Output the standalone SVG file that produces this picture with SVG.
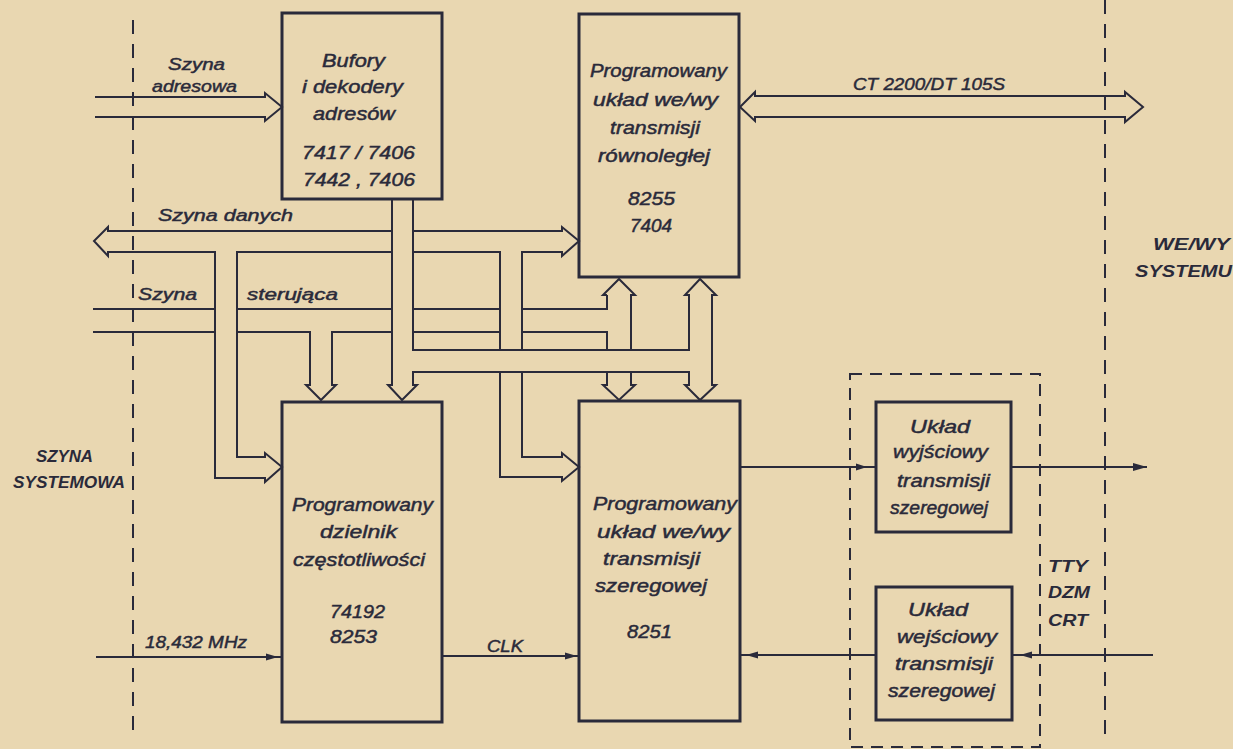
<svg xmlns="http://www.w3.org/2000/svg" width="1233" height="749" viewBox="0 0 1233 749">
<style>
.bg{fill:#e9d7b1}
.box{fill:none;stroke:#2a2a3a;stroke-width:3}
.ln{fill:none;stroke:#2a2a3a;stroke-width:2;stroke-linejoin:miter}
.dash{fill:none;stroke:#2a2a3a;stroke-width:2;stroke-dasharray:14 10}
.dbox{fill:none;stroke:#2a2a3a;stroke-width:2;stroke-dasharray:12 8}
.ah{fill:#2a2a3a}
text{font-family:"Liberation Sans","DejaVu Sans",sans-serif;font-style:italic;font-size:17.5px;fill:#2a2a3a;stroke:#2a2a3a;stroke-width:0.45}
.cap{font-weight:bold;font-size:16px;stroke-width:0}
.sm{font-size:16px}
</style>
<rect class="bg" x="0" y="0" width="1233" height="749"/>

<g id="boundaries">
<line class="dash" x1="133" y1="20" x2="133" y2="735"/>
<line class="dash" x1="1105" y1="0" x2="1105" y2="735"/>
<text class="cap" x="36" y="462" textLength="57" lengthAdjust="spacingAndGlyphs">SZYNA</text>
<text class="cap" x="13" y="488" textLength="112" lengthAdjust="spacingAndGlyphs">SYSTEMOWA</text>
<text class="cap" x="1153" y="250" textLength="77" lengthAdjust="spacingAndGlyphs">WE/WY</text>
<text class="cap" x="1135" y="277" textLength="97" lengthAdjust="spacingAndGlyphs">SYSTEMU</text>
</g>

<g id="connectors">
<!-- address bus -->
<path class="ln" d="M95,97 H265 V93 L282,107 L265,121 V117 H95"/>
<!-- CT bus -->
<path class="ln" d="M755,96 H1125 V92 L1143,107 L1125,122 V117 H755 V121 L740,107 L755,92 Z"/>
<!-- data bus -->
<path class="ln" d="M392,231 H108 V227 L94,241 L108,256 V252 H215 V478 H265 V482 L282,467 L265,453 V457 H237 V252 H392"/>
<path class="ln" d="M413,231 H562 V227 L579,241 L562,256 V252 H522 V350"/>
<path class="ln" d="M413,252 H500 V350"/>
<path class="ln" d="M500,372 V477 H562 V481 L579,467 L562,453 V457 H522 V372"/>
<!-- control bus -->
<path class="ln" d="M93,309 H215 M237,309 H392 M413,309 H500 M522,309 H607 V295"/>
<path class="ln" d="M93,332 H215 M237,332 H310 V385 H306 L321,400 L336,385 H332 V332 H392 M413,332 H500 M522,332 H607 V350"/>
<!-- buffer bus -->
<path class="ln" d="M392,199 V385 H388 L402,400 L417,385 H413 V372 H689 V385 H685 L700,400 L716,385 H712 V295 H716 L700,279 L685,295 H689 V350 H413 V199"/>
<!-- left vertical bus 8255/8251 -->
<path class="ln" d="M607,295 H603 L619,279 L635,295 H631 V350"/>
<path class="ln" d="M607,372 V385 H603 L619,400 L635,385 H631 V372"/>
<!-- clock and serial lines -->
<path class="ln" d="M96,657 H282"/>
<polygon class="ah" points="278,657 266,653.5 266,660.5"/>
<path class="ln" d="M442,656 H579"/>
<polygon class="ah" points="577,656 565,652.5 565,659.5"/>
<path class="ln" d="M740,467 H876 M1011,467 H1147"/>
<polygon class="ah" points="867,467 856,463.5 856,470.5"/>
<polygon class="ah" points="1147,467 1133,463 1133,471"/>
<path class="ln" d="M1153,655 H1012 M876,655 H740"/>
<polygon class="ah" points="1020,655 1032,651.5 1032,658.5"/>
<polygon class="ah" points="746,655 758,651.5 758,658.5"/>
<text class="sm" x="853" y="90" textLength="152" lengthAdjust="spacingAndGlyphs">CT 2200/DT 105S</text>
<text class="sm" x="168" y="70" textLength="57" lengthAdjust="spacingAndGlyphs">Szyna</text>
<text class="sm" x="152" y="92" textLength="85" lengthAdjust="spacingAndGlyphs">adresowa</text>
<text class="sm" x="158" y="221" textLength="135" lengthAdjust="spacingAndGlyphs">Szyna danych</text>
<text class="sm" x="138" y="300" textLength="59" lengthAdjust="spacingAndGlyphs">Szyna</text>
<text class="sm" x="247" y="300" textLength="91" lengthAdjust="spacingAndGlyphs">sterująca</text>
<text class="sm" x="145" y="648" textLength="102" lengthAdjust="spacingAndGlyphs">18,432 MHz</text>
<text class="sm" x="487" y="652" textLength="36" lengthAdjust="spacingAndGlyphs">CLK</text>
</g>

<g id="buffers">
<rect class="box" x="282" y="13" width="160" height="186"/>
<text x="322" y="67" textLength="63" lengthAdjust="spacingAndGlyphs">Bufory</text>
<text x="302" y="93" textLength="101" lengthAdjust="spacingAndGlyphs">i dekodery</text>
<text x="313" y="120" textLength="82" lengthAdjust="spacingAndGlyphs">adresów</text>
<text x="302" y="159" textLength="113" lengthAdjust="spacingAndGlyphs">7417 / 7406</text>
<text x="303" y="186" textLength="112" lengthAdjust="spacingAndGlyphs">7442 , 7406</text>
</g>

<g id="ppi8255">
<rect class="box" x="579" y="14" width="160" height="263"/>
<text x="590" y="77" textLength="137" lengthAdjust="spacingAndGlyphs">Programowany</text>
<text x="593" y="106" textLength="125" lengthAdjust="spacingAndGlyphs">układ we/wy</text>
<text x="610" y="134" textLength="90" lengthAdjust="spacingAndGlyphs">transmisji</text>
<text x="598" y="162" textLength="112" lengthAdjust="spacingAndGlyphs">równoległej</text>
<text x="628" y="205" textLength="47" lengthAdjust="spacingAndGlyphs">8255</text>
<text x="630" y="232" textLength="42" lengthAdjust="spacingAndGlyphs">7404</text>
</g>

<g id="divider8253">
<rect class="box" x="282" y="402" width="160" height="320"/>
<text x="292" y="511" textLength="141" lengthAdjust="spacingAndGlyphs">Programowany</text>
<text x="320" y="538" textLength="77" lengthAdjust="spacingAndGlyphs">dzielnik</text>
<text x="293" y="566" textLength="132" lengthAdjust="spacingAndGlyphs">częstotliwości</text>
<text x="330" y="618" textLength="55" lengthAdjust="spacingAndGlyphs">74192</text>
<text x="330" y="643" textLength="47" lengthAdjust="spacingAndGlyphs">8253</text>
</g>

<g id="usart8251">
<rect class="box" x="579" y="401" width="161" height="320"/>
<text x="593" y="510" textLength="144" lengthAdjust="spacingAndGlyphs">Programowany</text>
<text x="597" y="538" textLength="133" lengthAdjust="spacingAndGlyphs">układ we/wy</text>
<text x="603" y="565" textLength="97" lengthAdjust="spacingAndGlyphs">transmisji</text>
<text x="595" y="592" textLength="112" lengthAdjust="spacingAndGlyphs">szeregowej</text>
<text x="627" y="638" textLength="45" lengthAdjust="spacingAndGlyphs">8251</text>
</g>

<g id="interface">
<rect class="dbox" x="850" y="374" width="190" height="373"/>
<text class="cap" x="1048" y="572" textLength="40" lengthAdjust="spacingAndGlyphs">TTY</text>
<text class="cap" x="1048" y="598" textLength="42" lengthAdjust="spacingAndGlyphs">DZM</text>
<text class="cap" x="1048" y="626" textLength="40" lengthAdjust="spacingAndGlyphs">CRT</text>
</g>

<g id="output">
<rect class="box" x="876" y="402" width="135" height="130"/>
<text x="910" y="433" textLength="60" lengthAdjust="spacingAndGlyphs">Układ</text>
<text x="893" y="458" textLength="95" lengthAdjust="spacingAndGlyphs">wyjściowy</text>
<text x="897" y="487" textLength="93" lengthAdjust="spacingAndGlyphs">transmisji</text>
<text x="890" y="514" textLength="98" lengthAdjust="spacingAndGlyphs">szeregowej</text>
</g>

<g id="input">
<rect class="box" x="876" y="587" width="136" height="133"/>
<text x="908" y="616" textLength="60" lengthAdjust="spacingAndGlyphs">Układ</text>
<text x="897" y="643" textLength="100" lengthAdjust="spacingAndGlyphs">wejściowy</text>
<text x="895" y="670" textLength="98" lengthAdjust="spacingAndGlyphs">transmisji</text>
<text x="888" y="697" textLength="107" lengthAdjust="spacingAndGlyphs">szeregowej</text>
</g>
</svg>
